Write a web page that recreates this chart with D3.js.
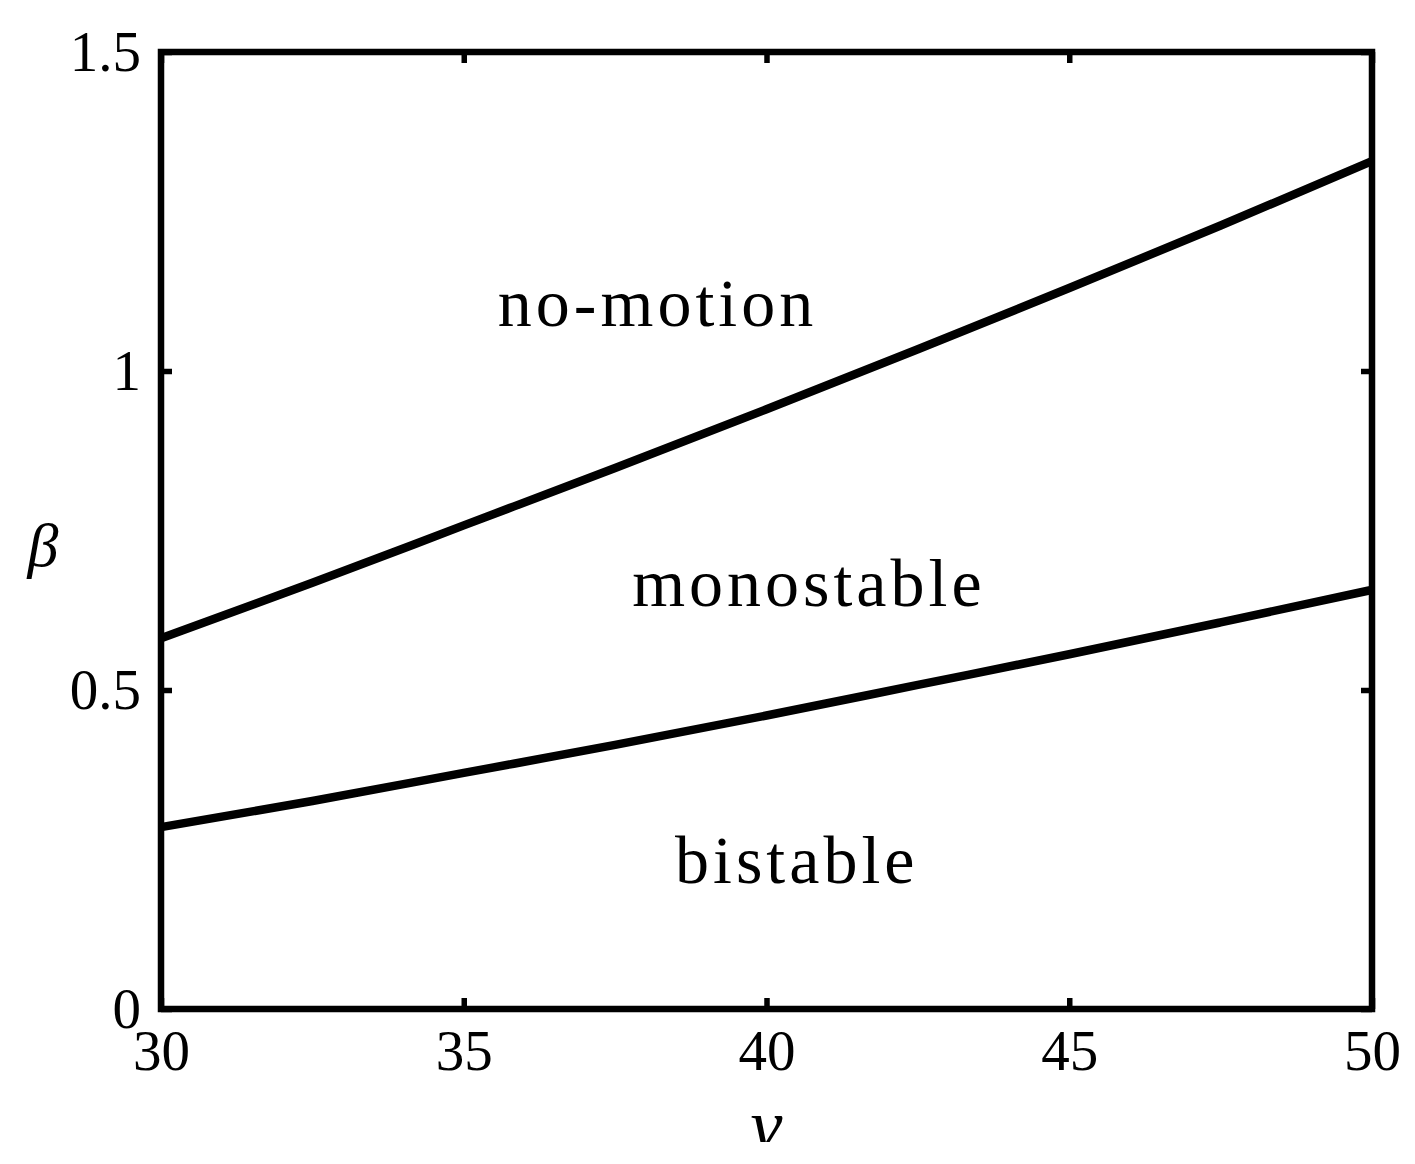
<!DOCTYPE html>
<html>
<head>
<meta charset="utf-8">
<script src="https://cdn.jsdelivr.net/npm/d3@7"></script>
<style>
  body { margin: 0; background: #fff; }
  text { font-family: "Liberation Serif", "Times New Roman", serif; fill: #000; }
</style>
</head>
<body>
<div id="chart"></div>
<script>
// boundary curves
const nu = [30, 32.5, 35, 37.5, 40, 42.5, 45, 47.5, 50];
const upperBeta = [0.581, 0.668, 0.758, 0.848, 0.94, 1.034, 1.13, 1.228, 1.329];
const lowerBeta = [0.285, 0.326, 0.37, 0.414, 0.46, 0.508, 0.556, 0.606, 0.657];
const xTicks = [30, 35, 40, 45, 50];
const yTicks = [0, 0.5, 1, 1.5];
const regionLabels = [
  {text: "no-motion", nu: 38.2, beta: 1.07},
  {text: "monostable", nu: 40.7, beta: 0.632},
  {text: "bistable", nu: 40.5, beta: 0.197}
];

const W = 1415, H = 1164;
const margin = {top: 52, right: 43, bottom: 155, left: 161},
    width = W - margin.left - margin.right,
    height = H - margin.top - margin.bottom;

const root = d3.select("#chart").append("svg")
  .attr("width", W)
  .attr("height", H);

// bottom of the original image is cropped
root.append("clipPath").attr("id", "crop")
  .append("rect").attr("width", W).attr("height", 1142);

const svg = root.append("g")
  .attr("clip-path", "url(#crop)")
  .append("g")
  .attr("transform", `translate(${margin.left},${margin.top})`);

const x = d3.scaleLinear().domain([30, 50]).range([0, width]);
const y = d3.scaleLinear().domain([0, 1.5]).range([height, 0]);

const fmt = d => d3.format("~g")(d);

// ticks pointing inward on all four sides
const tick = 11;
svg.append("g")
  .attr("transform", `translate(0,${height})`)
  .call(d3.axisBottom(x).tickValues(xTicks).tickSize(-tick).tickPadding(21).tickFormat(fmt))
  .call(g => g.select(".domain").remove());
svg.append("g")
  .call(d3.axisTop(x).tickValues(xTicks).tickSize(-tick).tickFormat(""))
  .call(g => g.select(".domain").remove());
svg.append("g")
  .call(d3.axisLeft(y).tickValues(yTicks).tickSize(-tick).tickPadding(20).tickFormat(fmt))
  .call(g => g.select(".domain").remove());
svg.append("g")
  .attr("transform", `translate(${width},0)`)
  .call(d3.axisRight(y).tickValues(yTicks).tickSize(-tick).tickFormat(""))
  .call(g => g.select(".domain").remove());

svg.selectAll(".tick line").attr("stroke", "#000").attr("stroke-width", 5.5);
svg.selectAll(".tick text")
  .style("font-size", "57px")
  .style("font-family", "'Liberation Serif', serif")
  .attr("fill", "#000");

// frame
svg.append("rect")
  .attr("width", width)
  .attr("height", height)
  .attr("fill", "none")
  .attr("stroke", "#000")
  .attr("stroke-width", 6.5);

// curves
const line = d3.line()
  .x((d, i) => x(nu[i]))
  .y(d => y(d))
  .curve(d3.curveMonotoneX);

[upperBeta, lowerBeta].forEach(s => {
  svg.append("path")
    .datum(s)
    .attr("d", line)
    .attr("fill", "none")
    .attr("stroke", "#000")
    .attr("stroke-width", 8.5);
});

// region labels
svg.selectAll(".region")
  .data(regionLabels)
  .join("text")
  .attr("class", "region")
  .attr("x", d => x(d.nu))
  .attr("y", d => y(d.beta))
  .attr("text-anchor", "middle")
  .style("font-size", "68px")
  .style("letter-spacing", "4px")
  .text(d => d.text);

// axis titles
svg.append("text")
  .attr("x", width / 2)
  .attr("y", height + 140)
  .attr("text-anchor", "middle")
  .style("font-size", "72px")
  .style("font-style", "italic")
  .text("ν");

svg.append("text")
  .attr("x", -118)
  .attr("y", y(0.695))
  .attr("text-anchor", "middle")
  .style("font-size", "62px")
  .style("font-style", "italic")
  .text("β");
</script>
</body>
</html>
